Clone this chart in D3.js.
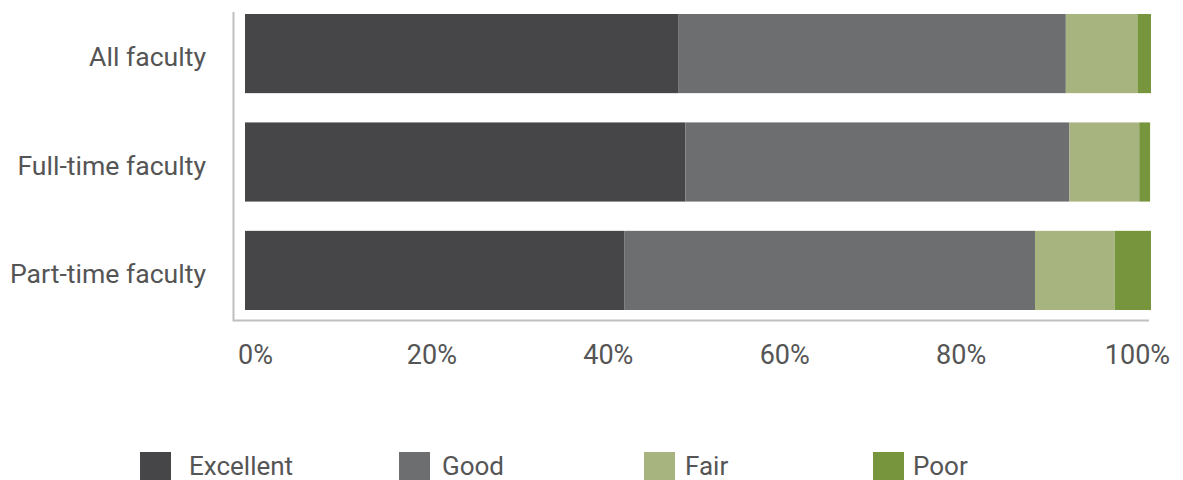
<!DOCTYPE html>
<html>
<head>
<meta charset="utf-8">
<script src="https://cdn.jsdelivr.net/npm/d3@7"></script>
<style>
  html, body { margin: 0; padding: 0; background: #fff; }
  svg { display: block; font-family: Roboto, "Noto Sans", sans-serif; }
</style>
</head>
<body>
<svg id="chart" width="1183" height="480"></svg>
<script>
// Faculty groups, top to bottom
const categories = ["All faculty", "Full-time faculty", "Part-time faculty"];
// Rating levels (stack order, left to right)
const ratings = ["Excellent", "Good", "Fair", "Poor"];
// Share of responses (%) per rating, one entry per group
const excellent = [47.8, 48.6, 41.9];
const good      = [42.8, 42.4, 45.3];
const fair      = [7.9, 7.7, 8.8];
const poor      = [1.5, 1.2, 4.0];
const tickValues = [0, 20, 40, 60, 80, 100];

const colors = ["#464648", "#6d6e70", "#a7b47f", "#77953d"];
const textColor = "#555555";

const svg = d3.select("#chart");

// Build rows for the stack layout
const rows = categories.map((c, i) => ({
  category: c,
  Excellent: excellent[i],
  Good: good[i],
  Fair: fair[i],
  Poor: poor[i]
}));
const series = d3.stack().keys(ratings)(rows);

const x = d3.scaleLinear().domain([0, 100]).range([245, 1151]);
const xLabel = d3.scaleLinear().domain([0, 100]).range([255, 1137]);
const y = d3.scaleBand().domain(categories).paddingInner(0.27).paddingOuter(0)
  .range([14, 310]);

const color = d3.scaleOrdinal().domain(ratings).range(colors);

// Stacked bars
svg.append("g")
  .selectAll("g")
  .data(series)
  .join("g")
    .attr("fill", d => color(d.key))
  .selectAll("rect")
  .data(d => d)
  .join("rect")
    .attr("x", d => x(d[0]))
    .attr("y", d => y(d.data.category))
    .attr("width", d => x(d[1]) - x(d[0]))
    .attr("height", y.bandwidth());

// Axis frame (left and bottom lines)
svg.append("path")
  .attr("d", "M233.5,12V320.5H1149")
  .attr("fill", "none")
  .attr("stroke", "#bfbfbf")
  .attr("stroke-width", 2);

// Category labels
const yAxis = d3.axisLeft(y).tickSize(0).tickPadding(0);
const gy = svg.append("g").attr("transform", "translate(206,0)").call(yAxis);
gy.select(".domain").remove();
gy.selectAll("text")
  .attr("fill", textColor)
  .attr("font-size", 26.6)
  .attr("font-family", "Roboto")
  .attr("dy", "0.47em");

// Percentage labels
const xAxis = d3.axisBottom(xLabel).tickValues(tickValues).tickSize(0).tickPadding(0)
  .tickFormat(d => d + "%");
const gx = svg.append("g").attr("transform", "translate(0,345)").call(xAxis);
gx.select(".domain").remove();
gx.selectAll("text")
  .attr("fill", textColor)
  .attr("font-size", 27)
  .attr("font-family", "Roboto")
  .attr("dy", "0.71em");

// Legend
const legendX = [140, 399, 644, 873];
const legendGap = [18, 12, 10, 9];
const legend = svg.append("g")
  .selectAll("g")
  .data(ratings)
  .join("g")
    .attr("transform", (d, i) => `translate(${legendX[i]},452)`);
legend.append("rect")
  .attr("width", 31)
  .attr("height", 31)
  .attr("fill", d => color(d));
legend.append("text")
  .attr("x", (d, i) => 31 + legendGap[i])
  .attr("y", 23)
  .attr("fill", textColor)
  .attr("font-size", 26)
  .text(d => d);
</script>
</body>
</html>
